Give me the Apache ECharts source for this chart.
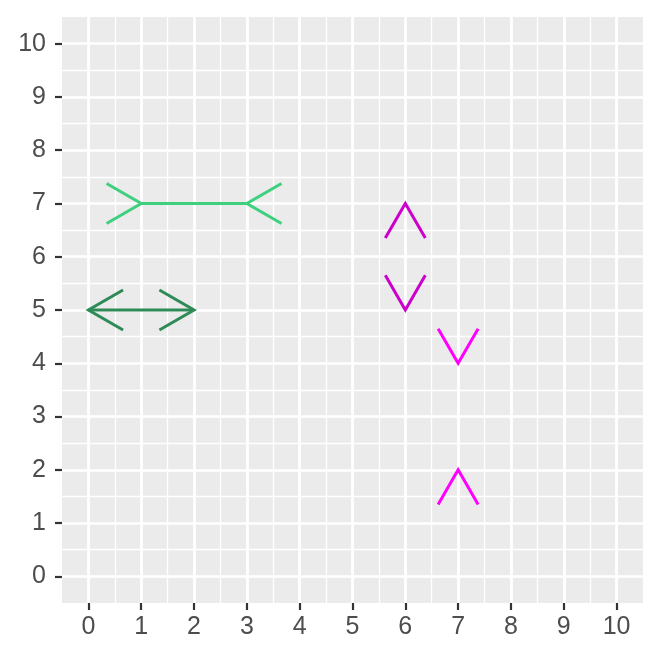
<!DOCTYPE html>
<html>
<head>
<meta charset="utf-8">
<script src="https://cdn.jsdelivr.net/npm/echarts@6/dist/echarts.min.js"></script>
<style>
  html, body { margin: 0; padding: 0; background: #ffffff; }
  #chart { width: 660px; height: 660px; }
</style>
</head>
<body>
<div id="chart"></div>
<script>
// ---- data ----
const xTicks = [0, 1, 2, 3, 4, 5, 6, 7, 8, 9, 10];
const yTicks = [0, 1, 2, 3, 4, 5, 6, 7, 8, 9, 10];
const segX0 = [1, 0, 6, 7];
const segY0 = [7, 5, 5, 2];
const segX1 = [3, 2, 6, 7];
const segY1 = [7, 5, 7, 4];
// ---- styles (kept apart from the data) ----
const segColor = ['#3ECF7F', '#2E8B57', '#CC00CC', '#FF00FF'];
const segHead = ['flared', 'normal', 'normal', 'flared'];
const segShaft = [true, true, false, false];

const HEAD_LEN = 40;
const HEAD_ANGLE = 30 * Math.PI / 180;
const LINE_W = 3;

function rot(v, a) {
  return [v[0] * Math.cos(a) - v[1] * Math.sin(a), v[0] * Math.sin(a) + v[1] * Math.cos(a)];
}

function head(tip, dirOut, style, color) {
  // dirOut: unit vector pointing away from the segment at this end
  const sign = style === 'normal' ? -1 : 1;
  const w1 = rot(dirOut, HEAD_ANGLE);
  const w2 = rot(dirOut, -HEAD_ANGLE);
  return {
    type: 'polyline',
    shape: {
      points: [
        [tip[0] + sign * HEAD_LEN * w1[0], tip[1] + sign * HEAD_LEN * w1[1]],
        tip,
        [tip[0] + sign * HEAD_LEN * w2[0], tip[1] + sign * HEAD_LEN * w2[1]]
      ]
    },
    style: { stroke: color, lineWidth: LINE_W, fill: null, lineJoin: 'miter', lineCap: 'butt' }
  };
}

const segData = segX0.map((v, i) => [segX0[i], segY0[i], segX1[i], segY1[i]]);

const chart = echarts.init(document.getElementById('chart'), null, { renderer: 'canvas' });

const labelStyle = { color: '#4D4D4D', fontFamily: 'Liberation Sans, Arial, sans-serif', fontSize: 25 };
const minorColors = ['transparent'].concat(new Array(21).fill('#FFFFFF'));

chart.setOption({
  animation: false,
  backgroundColor: '#FFFFFF',
  grid: {
    left: 62, right: 17, top: 17, bottom: 57,
    show: true, backgroundColor: '#EBEBEB', borderWidth: 0
  },
  xAxis: [
    {
      type: 'value', min: -0.5, max: 10.5, position: 'bottom',
      axisLine: { show: false, onZero: false },
      axisTick: { show: true, customValues: xTicks, length: 7, lineStyle: { color: '#333333', width: 2.2 } },
      axisLabel: { show: true, customValues: xTicks, margin: 12, ...labelStyle },
      splitLine: { show: true, lineStyle: { color: '#FFFFFF', width: 2.7 } },
      z: 1
    },
    {
      type: 'value', min: -0.5, max: 10.5, interval: 0.5, position: 'bottom',
      axisLine: { show: false, onZero: false }, axisTick: { show: false }, axisLabel: { show: false },
      splitLine: { show: true, lineStyle: { color: minorColors, width: 1.3 } },
      z: 0
    }
  ],
  yAxis: [
    {
      type: 'value', min: -0.5, max: 10.5, position: 'left',
      axisLine: { show: false, onZero: false },
      axisTick: { show: true, customValues: yTicks, length: 7, lineStyle: { color: '#333333', width: 2.2 } },
      axisLabel: { show: true, customValues: yTicks, margin: 16, ...labelStyle },
      splitLine: { show: true, lineStyle: { color: '#FFFFFF', width: 2.7 } },
      z: 1
    },
    {
      type: 'value', min: -0.5, max: 10.5, interval: 0.5, position: 'left',
      axisLine: { show: false, onZero: false }, axisTick: { show: false }, axisLabel: { show: false },
      splitLine: { show: true, lineStyle: { color: minorColors, width: 1.3 } },
      z: 0
    }
  ],
  series: [{
    type: 'custom',
    xAxisIndex: 0, yAxisIndex: 0,
    clip: false,
    encode: { x: [0, 2], y: [1, 3] },
    data: segData,
    z: 5,
    renderItem: function (params, api) {
      const i = params.dataIndex;
      const p0 = api.coord([api.value(0), api.value(1)]);
      const p1 = api.coord([api.value(2), api.value(3)]);
      const dx = p1[0] - p0[0], dy = p1[1] - p0[1];
      const len = Math.hypot(dx, dy) || 1;
      const u = [dx / len, dy / len];
      const color = segColor[i];
      const children = [];
      if (segShaft[i]) {
        children.push({
          type: 'line',
          shape: { x1: p0[0], y1: p0[1], x2: p1[0], y2: p1[1] },
          style: { stroke: color, lineWidth: LINE_W, lineCap: 'butt' }
        });
      }
      children.push(head(p1, u, segHead[i], color));
      children.push(head(p0, [-u[0], -u[1]], segHead[i], color));
      return { type: 'group', children: children };
    }
  }]
});
</script>
</body>
</html>
